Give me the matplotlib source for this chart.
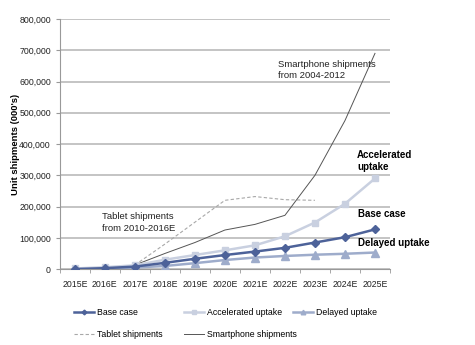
import numpy as np
import matplotlib.pyplot as plt
from matplotlib.ticker import FuncFormatter

plt.rcParams['font.family'] = ['Liberation Sans', 'DejaVu Sans']

years = ["2015E", "2016E", "2017E", "2018E", "2019E", "2020E",
         "2021E", "2022E", "2023E", "2024E", "2025E"]
base = [0, 3000, 8000, 20000, 33000, 45000, 56000, 68000, 85000, 102000, 127000]
accel = [2000, 6000, 12000, 30000, 45000, 60000, 76000, 105000, 149000, 209000, 290000]
delayed = [0, 2000, 5000, 10000, 19000, 29000, 37000, 42000, 46000, 49000, 53000]
# tablet and smartphone curves start at 2017E
tablet = [13000, 80000, 150000, 220000, 232000, 222000, 220000]
smart = [13000, 50000, 85000, 125000, 143000, 172000, 300000, 475000, 690000]

x = np.arange(len(years))

fig = plt.figure(figsize=(4.75, 3.45), dpi=100)
ax = fig.add_axes([0.126, 0.22, 0.695, 0.725])

l_tab, = ax.plot(x[2:2+len(tablet)], tablet, color="#a8a8a8", lw=0.8, ls=(0, (3, 2)),
                 label="Tablet shipments", zorder=2)
l_sm, = ax.plot(x[2:2+len(smart)], smart, color="#555555", lw=0.7,
                label="Smartphone shipments", zorder=2)
l_del, = ax.plot(x, delayed, color="#9eaccb", lw=1.8, marker="^", ms=5.5,
                 label="Delayed uptake", zorder=3)
l_acc, = ax.plot(x, accel, color="#c9d0e0", lw=1.8, marker="s", ms=5,
                 label="Accelerated uptake", zorder=3)
l_base, = ax.plot(x, base, color="#4d6299", lw=1.8, marker="D", ms=4,
                  label="Base case", zorder=4)

ax.set_xlim(-0.5, len(years) - 0.5)
ax.set_ylim(0, 800000)
ax.set_yticks(np.arange(0, 800001, 100000))
ax.yaxis.set_major_formatter(FuncFormatter(lambda v, p: f"{int(v):,}"))
ax.set_xticks(x)
ax.set_xticklabels(years)
ax.set_xticks(np.arange(-0.5, len(years)), minor=True)
ax.tick_params(axis="x", which="major", length=0, labelsize=6.3, pad=8, colors="#222222")
ax.tick_params(axis="x", which="minor", length=3, color="#999999")
ax.tick_params(axis="y", length=3, color="#999999", labelsize=6.3, colors="#222222")
ax.grid(axis="y", color="#c4c4c4", lw=1.4, zorder=0)
ax.set_axisbelow(True)
for s in ["top", "right"]:
    ax.spines[s].set_visible(False)
ax.spines["left"].set_color("#999999")
ax.spines["bottom"].set_color("#999999")
ax.set_ylabel("Unit shipments (000's)", fontsize=6.8, fontweight="bold")
ax.yaxis.set_label_coords(-0.121, 0.5)

ax.text(6.77, 670000, "Smartphone shipments\nfrom 2004-2012", fontsize=6.8,
        va="top", color="#222222", linespacing=1.3)
ax.text(0.9, 183000, "Tablet shipments\nfrom 2010-2016E", fontsize=6.8,
        va="top", color="#222222", linespacing=1.45)
ax.text(9.4, 380000, "Accelerated\nuptake", fontsize=7, fontweight="bold",
        va="top", linespacing=1.25)
ax.text(9.45, 175000, "Base case", fontsize=7, fontweight="bold", va="center")
ax.text(9.45, 85000, "Delayed uptake", fontsize=7, fontweight="bold", va="center")

# legend columns placed like the original (uneven column gaps)
cols = [([l_base, l_tab], 74), ([l_acc, l_sm], 184), ([l_del], 293)]
for hs, px in cols:
    fig.legend(handles=hs, frameon=False, loc="upper left",
               bbox_to_anchor=(px / 475, 1 - 308 / 345), borderpad=0,
               borderaxespad=0, fontsize=6.3, handlelength=2.3, handletextpad=0.35,
               markerscale=0.6, labelspacing=1.5)

fig.savefig("out.png", dpi=100)
